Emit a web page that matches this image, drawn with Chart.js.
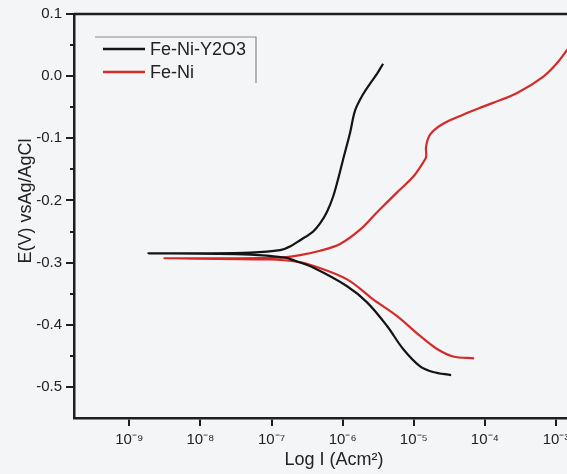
<!DOCTYPE html>
<html>
<head>
<meta charset="utf-8">
<script src="https://cdn.jsdelivr.net/npm/chart.js@4.4.1/dist/chart.umd.min.js"></script>
<style>
  html, body { margin: 0; padding: 0; overflow: hidden; background: #f4f5f6; }
  #wrap { width: 620px; height: 474px; }
</style>
</head>
<body>
<div id="wrap"><canvas id="tafelChart" width="620" height="474"></canvas></div>
<script>
// Tafel curves: log I (A/cm2) against E (V vs Ag/AgCl).
// Each curve runs cathodic end -> Ecorr -> anodic end.
const feNiY2O3LogI = [-4.475, -4.729, -4.911, -5.150, -5.376, -5.657, -5.938, -6.416, -6.669, -6.810, -7.302, -8.723,
  -8.005, -7.302, -6.880, -6.740, -6.599, -6.416, -6.318, -6.220, -6.135, -6.065, -5.994, -5.896, -5.825, -5.713, -5.614, -5.516, -5.432];
const feNiY2O3E = [-0.481, -0.476, -0.467, -0.439, -0.402, -0.364, -0.338, -0.308, -0.297, -0.292, -0.287, -0.285,
  -0.285, -0.284, -0.280, -0.274, -0.264, -0.250, -0.237, -0.218, -0.194, -0.166, -0.134, -0.091, -0.055, -0.029, -0.012, 0.004, 0.020];

const feNiLogI = [-4.152, -4.447, -4.672, -4.911, -5.235, -5.572, -5.938, -6.416, -6.669, -7.021, -8.498,
  -7.724, -6.880, -6.599, -6.318, -6.037, -5.755, -5.516, -5.235, -5.010, -4.869, -4.827, -4.827, -4.771, -4.594,
  -4.307, -4.025, -3.885, -3.547, -3.182, -2.985, -2.844, -2.591];
const feNiE = [-0.454, -0.451, -0.439, -0.418, -0.386, -0.359, -0.327, -0.305, -0.298, -0.295, -0.293,
  -0.293, -0.292, -0.288, -0.281, -0.270, -0.247, -0.219, -0.187, -0.162, -0.139, -0.130, -0.113, -0.094, -0.077,
  -0.062, -0.049, -0.043, -0.027, -0.001, 0.021, 0.042, 0.078];

const seriesNames = ['Fe-Ni-Y2O3', 'Fe-Ni'];
const seriesColors = ['#141414', '#d42a2a'];

const xTickExps = [-9, -8, -7, -6, -5, -4, -3];
const yTicks = [0.1, 0.0, -0.1, -0.2, -0.3, -0.4, -0.5];
const yMinorTicks = [0.05, -0.05, -0.15, -0.25, -0.35, -0.45];

const SUP = { '-': '\u207B', '0': '\u2070', '1': '\u00B9', '2': '\u00B2', '3': '\u00B3', '4': '\u2074',
  '5': '\u2075', '6': '\u2076', '7': '\u2077', '8': '\u2078', '9': '\u2079' };
const sup = n => String(n).split('').map(c => SUP[c]).join('');

const toPoints = (xs, ys) => xs.map((x, i) => ({ x: x, y: ys[i] }));

Chart.defaults.font.family = '"Liberation Sans", Arial, sans-serif';
Chart.defaults.color = '#222';

// top/right frame, minor y ticks and the Origin-style legend
const framePlugin = {
  id: 'frame',
  afterDraw(chart) {
    const { ctx, chartArea: a, scales: { y } } = chart;
    ctx.save();
    ctx.strokeStyle = '#1e1e1e';
    ctx.lineWidth = 2.5;
    ctx.beginPath();
    ctx.moveTo(a.left, a.top);
    ctx.lineTo(a.right, a.top);
    ctx.lineTo(a.right, a.bottom);
    ctx.stroke();

    ctx.lineWidth = 2;
    yMinorTicks.forEach(v => {
      const p = Math.round(y.getPixelForValue(v));
      ctx.beginPath();
      ctx.moveTo(a.left - 4, p);
      ctx.lineTo(a.left, p);
      ctx.stroke();
    });

    // legend box (only top and right edges show)
    const bx = a.left + 21, by = a.top + 23, bw = 161, bh = 46;
    ctx.strokeStyle = '#8a8a8a';
    ctx.lineWidth = 1.2;
    ctx.beginPath();
    ctx.moveTo(bx, by);
    ctx.lineTo(bx + bw, by);
    ctx.lineTo(bx + bw, by + bh);
    ctx.stroke();

    ctx.font = '18px "Liberation Sans", Arial, sans-serif';
    ctx.textBaseline = 'middle';
    chart.data.datasets.forEach((ds, i) => {
      const ly = by + 12 + i * 23;
      ctx.strokeStyle = ds.borderColor;
      ctx.lineWidth = 2.5;
      ctx.beginPath();
      ctx.moveTo(bx + 8, ly);
      ctx.lineTo(bx + 50, ly);
      ctx.stroke();
      ctx.fillStyle = '#222';
      ctx.fillText(ds.label, bx + 55, ly + 1);
    });
    ctx.restore();
  }
};

new Chart(document.getElementById('tafelChart'), {
  type: 'scatter',
  data: {
    datasets: [
      {
        label: seriesNames[0],
        data: toPoints(feNiY2O3LogI, feNiY2O3E),
        borderColor: seriesColors[0],
        borderWidth: 2.2,
        showLine: true,
        pointRadius: 0,
        tension: 0.35,
      },
      {
        label: seriesNames[1],
        data: toPoints(feNiLogI, feNiE),
        borderColor: seriesColors[1],
        borderWidth: 2.2,
        showLine: true,
        pointRadius: 0,
        tension: 0.35,
      },
    ],
  },
  options: {
    responsive: false,
    animation: false,
    layout: { padding: { top: 14, right: 26, bottom: 0, left: 0 } },
    plugins: { legend: { display: false }, tooltip: { enabled: false } },
    scales: {
      x: {
        type: 'linear',
        min: -9.778,
        max: -2.466,
        afterBuildTicks: s => { s.ticks = xTickExps.map(v => ({ value: v })); },
        afterFit: s => { s.height = 56; },
        grid: { drawOnChartArea: false, tickLength: 8, color: '#1e1e1e', lineWidth: 2 },
        border: { color: '#1e1e1e', width: 2.5 },
        ticks: {
          color: '#222',
          font: { size: 15 },
          padding: 5,
          maxRotation: 0,
          autoSkip: false,
          callback: v => '10' + sup(v),
        },
        title: {
          display: true,
          text: 'Log I (Acm\u00B2)',
          color: '#222',
          font: { size: 18 },
          padding: { top: 0, bottom: 3 },
        },
      },
      y: {
        min: -0.55,
        max: 0.1,
        afterBuildTicks: s => { s.ticks = yTicks.map(v => ({ value: v })); },
        afterFit: s => { s.width = 74; },
        grid: { drawOnChartArea: false, tickLength: 8, color: '#1e1e1e', lineWidth: 2 },
        border: { color: '#1e1e1e', width: 2.5 },
        ticks: {
          color: '#222',
          font: { size: 15 },
          padding: 4,
          callback: v => v.toFixed(1),
        },
        title: {
          display: true,
          text: '      E(V) vsAg/AgCl',
          color: '#222',
          font: { size: 18 },
          padding: { top: 15, bottom: 0 },
        },
      },
    },
  },
  plugins: [framePlugin],
});
</script>
</body>
</html>
